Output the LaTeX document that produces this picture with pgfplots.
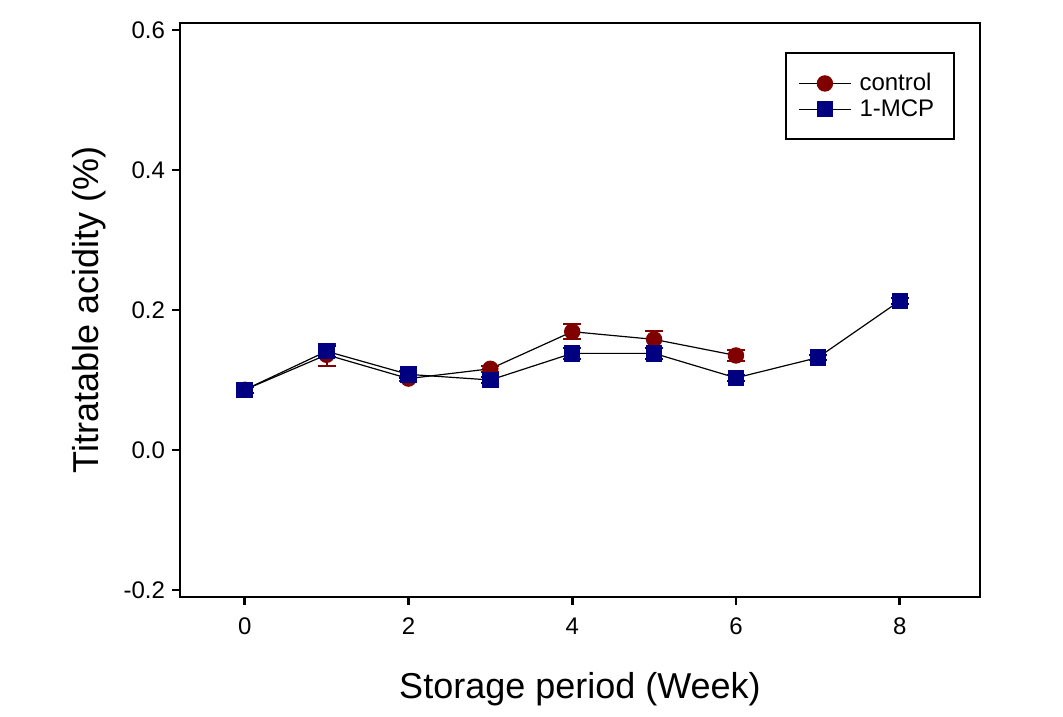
\documentclass[border=0pt]{standalone}
\usepackage{pgfplots}
\pgfplotsset{compat=1.18}
\usepackage{fontspec}
\setmainfont{Liberation Sans}
\definecolor{cred}{RGB}{128,0,0}
\definecolor{cblue}{RGB}{0,0,128}
\begin{document}
\begin{tikzpicture}
\begin{axis}[
  scale only axis,
  width=400pt, height=287pt,
  xmin=-0.79, xmax=8.98,
  ymin=-0.21, ymax=0.61,
  axis line style={line width=1.3pt},
  xtick={0,2,4,6,8},
  ytick={-0.2,0,0.2,0.4,0.6},
  yticklabel style={/pgf/number format/.cd,fixed,fixed zerofill,precision=1},
  /pgf/number format/assume math mode=true,
  tick style={line width=1.3pt, black},
  tick align=outside,
  major tick length=4pt,
  xtick pos=bottom, ytick pos=left,
  tick label style={font=\fontsize{12}{14}\selectfont},
  xticklabel style={yshift=-3pt},
  xlabel={Storage period (Week)},
  ylabel={Titratable acidity (\%)},
  label style={font=\fontsize{18}{21}\selectfont},
  xlabel style={yshift=-12pt},
  ylabel style={yshift=2pt},
  legend style={at={(rel axis cs:0.969,0.949)}, anchor=north east, draw=black, line width=1pt,
    font=\fontsize{12}{14}\selectfont, inner xsep=6pt, inner ysep=8pt, row sep=-1.2pt,
    nodes={inner xsep=4pt}},
  legend image code/.code={
    \draw[black, line width=0.6pt] (0pt,0pt) -- (26pt,0pt);
    \draw[#1, mark repeat=1] plot coordinates {(13pt,0pt)};
  },
  legend cell align=left,
  error bars/y dir=both, error bars/y explicit,
]
\addplot[black, line width=0.6pt, mark=*, mark size=3.8pt,
  mark options={fill=cred, draw=cred},
  error bars/error bar style={cred, line width=1pt},
  error bars/error mark options={cred, line width=1pt, rotate=90, mark size=4.5pt}]
  coordinates {
  (0,0.086) +- (0,0.004)
  (1,0.136) +- (0,0.016)
  (2,0.102) +- (0,0.004)
  (3,0.116) +- (0,0.004)
  (4,0.169) +- (0,0.011)
  (5,0.158) +- (0,0.012)
  (6,0.135) +- (0,0.008)
  };
\addlegendentry{control}
\addplot[black, line width=0.6pt, mark=square*, mark size=3.8pt,
  mark options={fill=cblue, draw=cblue},
  error bars/error bar style={cblue, line width=1pt},
  error bars/error mark options={cblue, line width=1pt, rotate=90, mark size=4.5pt}]
  coordinates {
  (0,0.086) +- (0,0.005)
  (1,0.141) +- (0,0.008)
  (2,0.108) +- (0,0.005)
  (3,0.100) +- (0,0.004)
  (4,0.138) +- (0,0.008)
  (5,0.138) +- (0,0.008)
  (6,0.103) +- (0,0.004)
  (7,0.132) +- (0,0.004)
  (8,0.213) +- (0,0.004)
  };
\addlegendentry{1-MCP}
\end{axis}
\pgfresetboundingbox
\path (current axis.south west) ++(-90pt,-60pt) coordinate (bl);
\path (current axis.north east) ++(41.5pt,11.5pt) coordinate (tr);
\path[use as bounding box] (bl) rectangle (tr);
\end{tikzpicture}
\end{document}
